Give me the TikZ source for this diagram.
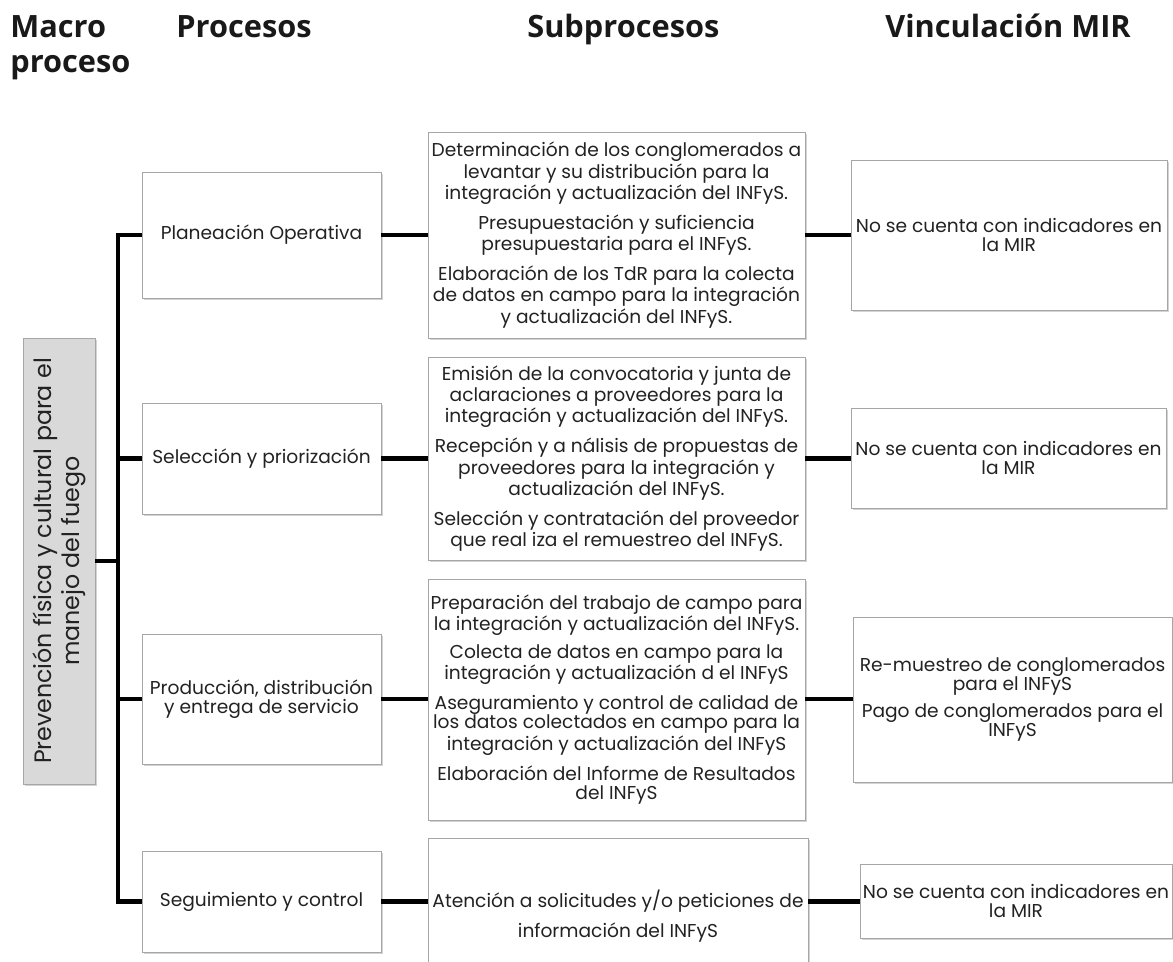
\documentclass[tikz,border=0pt]{standalone}
\usepackage{fontspec}
\setmainfont{Poppins}
\newfontfamily\encabezado{Open Sans}
\usetikzlibrary{shadows}
\definecolor{borde}{HTML}{A6A6A6}
\definecolor{relleno}{HTML}{D9D9D9}
\definecolor{letra}{HTML}{222222}
\newcommand{\pxu}{0.02cm}
\tikzset{
  texto/.style={align=center, text=letra, font=\fontsize{10.6}{10.8}\selectfont},
  caja/.style={texto, draw=borde, fill=white, inner sep=1pt,
    drop shadow={shadow xshift=1pt, shadow yshift=-1.4pt, opacity=.35}},
  tam/.style 2 args={minimum width=#1*\pxu, minimum height=#2*\pxu},
  titulo/.style={anchor=base west, inner sep=0, text=black!90,
    font=\encabezado\bfseries\fontsize{17.5}{20}\selectfont},
  linea/.style={line width=2.8pt},
}
\begin{document}
\begin{tikzpicture}[x=\pxu, y=-\pxu]
\useasboundingbox (0,0) rectangle (1173,962);
% encabezados
\node[titulo] (tmacro) at (10,38) {Macro};
\node[titulo] (tproceso) at (10,73) {proceso};
\node[titulo] (tprocesos) at (176,38) {Procesos};
\node[titulo] (tsub) at (527,38) {Subprocesos};
\node[titulo] (tmir) at (885,38) {Vinculación MIR};
% macro proceso
\node[caja, fill=relleno, rotate=90, tam={446}{72}, font=\fontsize{13.5}{15.9}\selectfont]
  (macro) at (59,561) {Prevención física y cultural para el\\manejo del fuego};
% procesos
\node[caja, tam={239}{126}] (p1) at (261.5,235) {Planeación Operativa};
\node[caja, tam={239}{111}] (p2) at (261.5,458.5) {Selección y priorización};
\node[caja, tam={239}{130}] (p3) at (261.5,699) {Producción, distribución\\y entrega de servicio};
\node[caja, tam={239}{101}] (p4) at (261.5,901.5) {Seguimiento y control};
% subprocesos
\node[caja, tam={377}{206}] (s1) at (616.5,235) {Determinación de los conglomerados a\\levantar y su distribución para la\\integración y actualización del INFyS.\\[5pt]
  Presupuestación y suficiencia\\presupuestaria para el INFyS.\\[5pt]
  Elaboración de los TdR para la colecta\\de datos en campo para la integración\\y actualización del INFyS.};
\node[caja, tam={377}{203}] (s2) at (616.5,458.5) {Emisión de la convocatoria y junta de\\aclaraciones a proveedores para la\\integración y actualización del INFyS.\\[5pt]
  Recepción y a nálisis de propuestas de\\proveedores para la integración y\\actualización del INFyS.\\[5pt]
  Selección y contratación del proveedor\\que real iza el remuestreo del INFyS.};
\node[caja, tam={377}{241}] (s3) at (616.5,699.5) {Preparación del trabajo de campo para\\la integración y actualización del INFyS.\\[5pt]
  Colecta de datos en campo para la\\integración y actualización d el INFyS\\[5pt]
  Aseguramiento y control de calidad de\\los datos colectados en campo para la\\integración y actualización del INFyS\\[5pt]
  Elaboración del Informe de Resultados\\del INFyS};
\node[caja, tam={380}{126}] (s4) at (618,901) {};
\node[texto] (s4t) at (618,916) {Atención a solicitudes y/o peticiones de\\[5pt]información del INFyS};
% vinculacion MIR
\node[caja, tam={316}{150}] (m1) at (1009,235) {No se cuenta con indicadores en\\la MIR};
\node[caja, tam={315}{100}] (m2) at (1008.5,458) {No se cuenta con indicadores en\\la MIR};
\node[caja, tam={319}{165}] (m3) at (1012.5,699.5) {Re-muestreo de conglomerados\\para el INFyS\\[5pt]Pago de conglomerados para el\\INFyS};
\node[caja, tam={312}{74}] (m4) at (1016,901) {No se cuenta con indicadores en\\la MIR};
% conectores
\coordinate (eje) at (118,0);
\draw[linea] (p1.west) -| (eje |- p4.west) -- (p4.west);
\draw[linea] (eje |- p2.west) -- (p2.west);
\draw[linea] (eje |- p3.west) -- (p3.west);
\draw[linea] (macro.south) -- (macro.south -| eje);
\foreach \i in {1,...,4}{
  \draw[linea] (p\i.east) -- (s\i.west |- p\i.east);
  \draw[linea] (s\i.east |- p\i.east) -- (m\i.west |- p\i.east);
}
\end{tikzpicture}
\end{document}
